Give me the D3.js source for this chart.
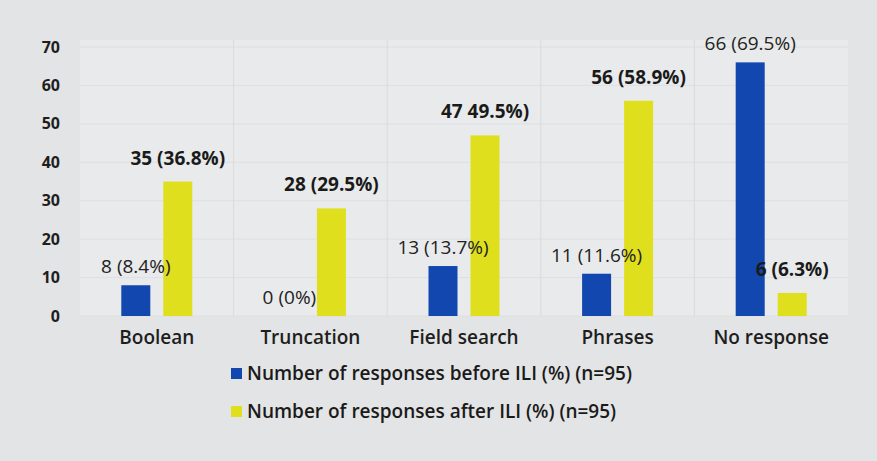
<!DOCTYPE html>
<html><head><meta charset="utf-8">
<script src="https://cdn.jsdelivr.net/npm/d3@7"></script>
<style>body{margin:0;background:#e3e4e5;}svg{display:block;}</style>
</head><body><svg id="c" width="877" height="461"></svg>
<script>
const categories = ["Boolean","Truncation","Field search","Phrases","No response"];
const before = [8,0,13,11,66];
const after = [35,28,47,56,6];
const beforeLabels = ["8 (8.4%)","0 (0%)","13 (13.7%)","11 (11.6%)","66 (69.5%)"];
const afterLabels = ["35 (36.8%)","28 (29.5%)","47 49.5%)","56 (58.9%)","6 (6.3%)"];
const yTicks = [0,10,20,30,40,50,60,70];
const seriesNames = ["Number of responses before ILI (%) (n=95)","Number of responses after ILI (%) (n=95)"];
const colors = ["#1247b0","#e0df1e"];

const svg = d3.select("#c");
const W=877,H=461;
svg.append("rect").attr("width",W).attr("height",H).attr("fill","#e3e4e5");
const m={l:80,r:848,t:40,b:316};
const x=d3.scaleBand().domain(categories).range([m.l,m.r]);
const y=d3.scaleLinear().domain([0,70]).range([m.b,m.t+7]);
const font="'Open Sans', sans-serif";

svg.append("rect").attr("x",m.l).attr("y",m.t).attr("width",m.r-m.l).attr("height",m.b-m.t).attr("fill","#e9eaeb");
svg.append("g").selectAll("line").data(yTicks).join("line")
  .attr("x1",m.l).attr("x2",m.r).attr("y1",d=>y(d)).attr("y2",d=>y(d))
  .attr("stroke","#dedfe0").attr("stroke-width",1);
svg.append("g").selectAll("line").data(categories.slice(1)).join("line")
  .attr("x1",d=>x(d)).attr("x2",d=>x(d)).attr("y1",m.t).attr("y2",m.b)
  .attr("stroke","#dadbdc");

const ya=svg.append("g").attr("transform",`translate(${m.l-20},0)`).call(d3.axisLeft(y).tickValues(yTicks).tickSize(0).tickPadding(0));
ya.select(".domain").remove();
ya.selectAll("text").attr("font-family",font).attr("font-size",16).attr("font-weight","bold").attr("fill","#1e1e1e").attr("text-anchor","end");

svg.append("g").selectAll("text").data(categories).join("text")
  .attr("x",d=>x(d)+x.bandwidth()/2).attr("y",m.b+28)
  .attr("text-anchor","middle").attr("font-family",font).attr("font-size",19).attr("font-weight",600).attr("fill","#1e1e1e")
  .text(d=>d);

const bw=29, off=21;
const g=svg.append("g");
categories.forEach((c,i)=>{
  const cx=x(c)+x.bandwidth()/2;
  if(before[i]>0) g.append("rect").attr("x",cx-off-bw/2).attr("y",y(before[i])).attr("width",bw).attr("height",y(0)-y(before[i])).attr("fill",colors[0]);
  g.append("rect").attr("x",cx+off-bw/2).attr("y",y(after[i])).attr("width",bw).attr("height",y(0)-y(after[i])).attr("fill",colors[1]);
  g.append("text").attr("x",cx-off).attr("y",y(before[i])-12).attr("text-anchor","middle")
    .attr("font-family",font).attr("font-size",19).attr("fill","#222").text(beforeLabels[i]);
  g.append("text").attr("x",cx+off).attr("y",y(after[i])-17).attr("text-anchor","middle")
    .attr("font-family",font).attr("font-size",19).attr("font-weight","bold").attr("fill","#1a1a1a").text(afterLabels[i]);
});

const lg=svg.append("g");
seriesNames.forEach((s,i)=>{
  const ly=379+i*38;
  lg.append("rect").attr("x",231).attr("y",ly-11).attr("width",11).attr("height",11).attr("fill",colors[i]);
  lg.append("text").attr("x",247).attr("y",ly+1).attr("font-family",font).attr("font-size",19).attr("font-weight",600).attr("fill","#1a1a1a").text(s);
});
</script></body></html>
